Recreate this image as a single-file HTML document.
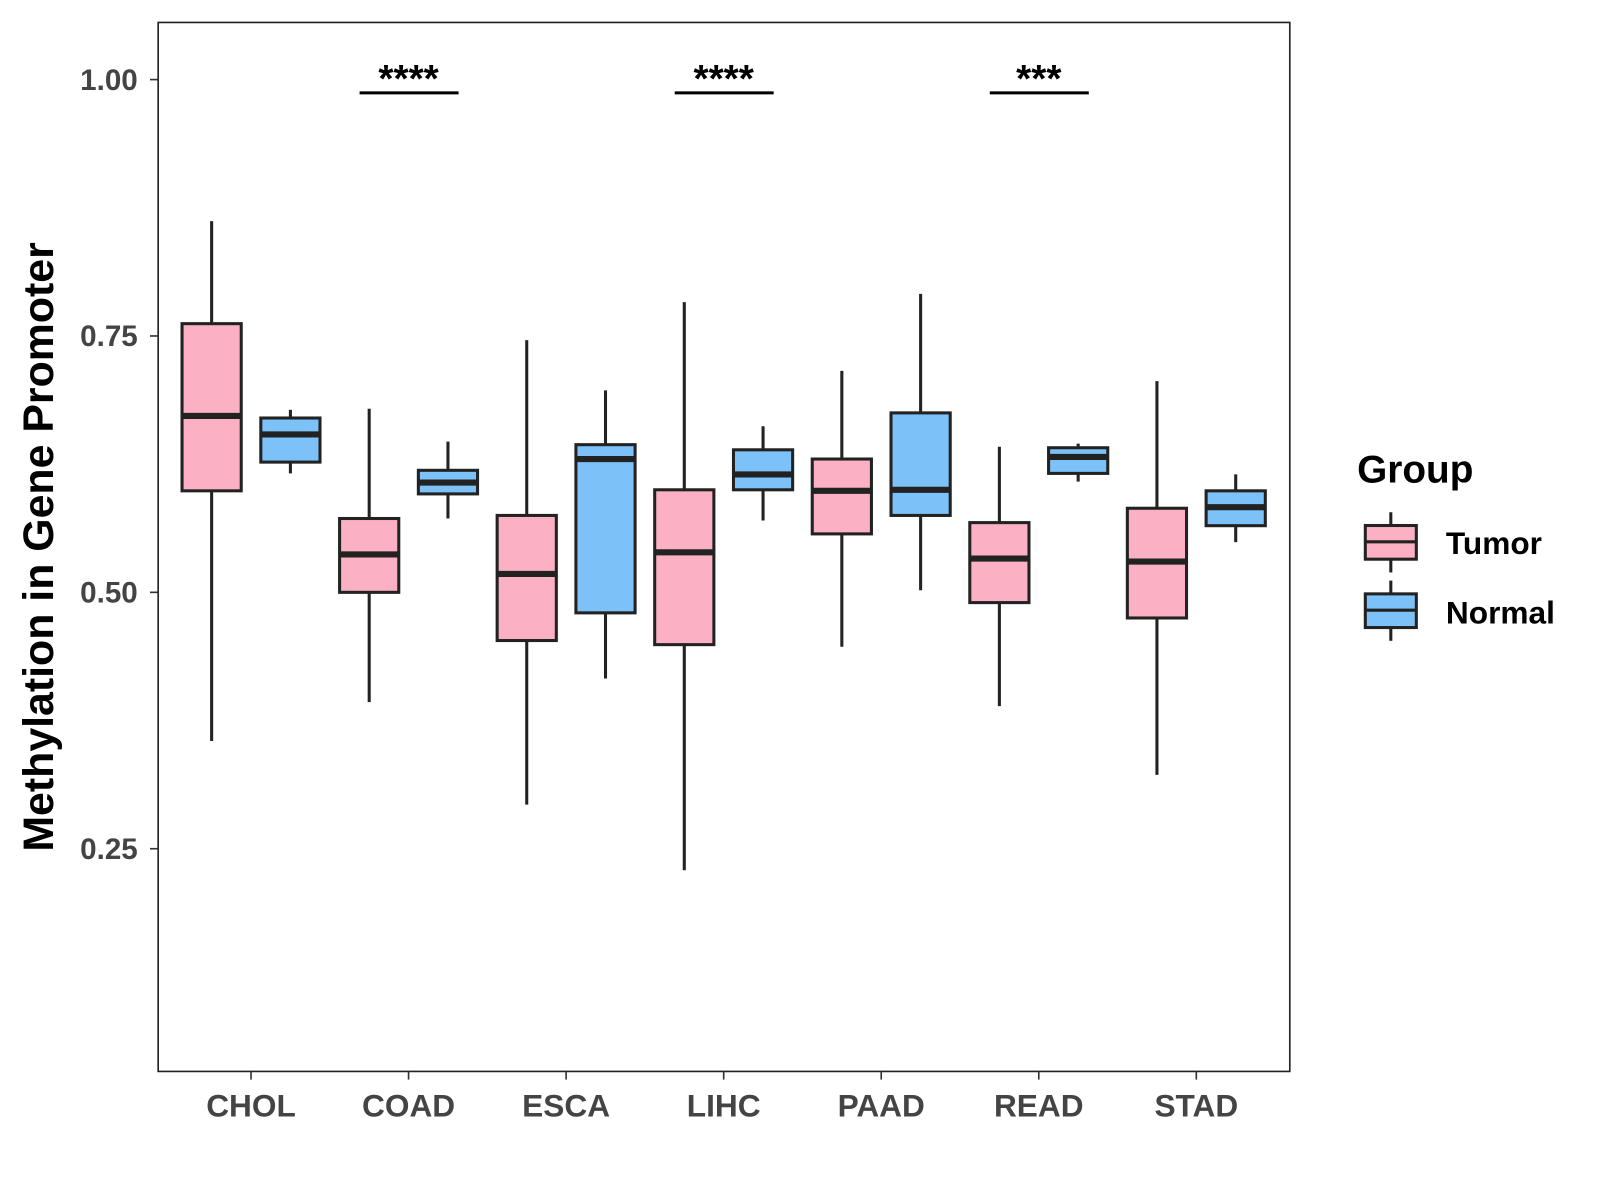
<!DOCTYPE html>
<html><head><meta charset="utf-8"><style>body{margin:0;background:#fff}svg{display:block}text{font-family:"Liberation Sans",Arial,sans-serif;font-weight:bold}</style></head>
<body>
<svg id="chart" width="1600" height="1200" viewBox="0 0 1568 1176" xmlns="http://www.w3.org/2000/svg">
<rect width="1568" height="1176" fill="#fff"/>
<g id="plot"></g>
<text transform="translate(52,536) rotate(-90)" text-anchor="middle" font-size="42" fill="#000">Methylation in Gene Promoter</text>
<g>
<text x="1330" y="473" font-size="38" fill="#000">Group</text>
<g>
<line x1="1363" y1="502" x2="1363" y2="561" stroke="#222" stroke-width="3"/>
<rect x="1338" y="515" width="50" height="33" fill="#fbb1c3" stroke="#222" stroke-width="3"/>
<line x1="1338" y1="531" x2="1388" y2="531" stroke="#222" stroke-width="3"/>
<text x="1417" y="543" font-size="31" fill="#000">Tumor</text></g>
<g>
<line x1="1363" y1="569" x2="1363" y2="628" stroke="#222" stroke-width="3"/>
<rect x="1338" y="582" width="50" height="33" fill="#7cc2f8" stroke="#222" stroke-width="3"/>
<line x1="1338" y1="598" x2="1388" y2="598" stroke="#222" stroke-width="3"/>
<text x="1417" y="611" font-size="31" fill="#000">Normal</text></g>
</g>
</svg>
<script>
const categories=["CHOL","COAD","ESCA","LIHC","PAAD","READ","STAD"];
const tumorStats=[[0.355,0.599,0.672,0.762,0.862],[0.393,0.500,0.537,0.572,0.679],[0.293,0.453,0.518,0.575,0.746],[0.229,0.449,0.539,0.600,0.783],[0.447,0.557,0.599,0.630,0.716],[0.389,0.490,0.533,0.568,0.642],[0.322,0.475,0.530,0.582,0.706]];
const normalStats=[[0.616,0.627,0.654,0.670,0.678],[0.572,0.596,0.607,0.619,0.647],[0.416,0.480,0.630,0.644,0.697],[0.570,0.600,0.615,0.639,0.662],[0.502,0.575,0.600,0.675,0.791],[0.608,0.616,0.632,0.641,0.645],[0.549,0.565,0.583,0.599,0.615]];
const yTicks=[0.25,0.50,0.75,1.00];
const yTickLabels=["0.25","0.50","0.75","1.00"];
const sigCategories=["COAD","LIHC","READ"];
const sigLabels=["****","****","***"];
const NS="http://www.w3.org/2000/svg";
const L=155,R=1264,T=22,B=1050;
const y=v=>78+(1-v)*1005;
const x=i=>246+i*154.4;
const g=document.getElementById('plot');
function mk(t,a,p){const e=document.createElementNS(NS,t);for(const k in a)e.setAttribute(k,a[k]);(p||g).appendChild(e);return e;}
const panel=mk('rect',{x:L,y:T,width:R-L,height:B-T,fill:'none',stroke:'#222','stroke-width':1.6});


yTicks.forEach((v,i)=>{
  const t=mk('line',{x1:L-8,x2:L,y1:y(v),y2:y(v),stroke:'#333','stroke-width':1.6});
  
  
  const l=mk('text',{x:135,y:y(v)+10,'text-anchor':'end','font-size':29,fill:'#444'});
  l.textContent=yTickLabels[i];
  
  
});
categories.forEach((c,i)=>{
  const t=mk('line',{x1:x(i),x2:x(i),y1:B,y2:B+8,stroke:'#333','stroke-width':1.6});
  
  
  const l=mk('text',{x:x(i),y:1094,'text-anchor':'middle','font-size':31,fill:'#444'});
  l.textContent=c;
  
  
});
function box(cx,s,fill,name){
  const gg=mk('g',{});
  
  
  const w=58;
  mk('line',{x1:cx,x2:cx,y1:y(s[4]),y2:y(s[0]),stroke:'#222','stroke-width':3},gg);
  mk('rect',{x:cx-w/2,y:y(s[3]),width:w,height:y(s[1])-y(s[3]),fill:fill,stroke:'#222','stroke-width':3},gg);
  mk('line',{x1:cx-w/2,x2:cx+w/2,y1:y(s[2]),y2:y(s[2]),stroke:'#222','stroke-width':6},gg);
}
categories.forEach((c,i)=>{
  box(x(i)-38.6,tumorStats[i],'#fbb1c3','box-tumor-'+c.toLowerCase());
  box(x(i)+38.6,normalStats[i],'#7cc2f8','box-normal-'+c.toLowerCase());
});
sigCategories.forEach((c,k)=>{
  const i=categories.indexOf(c);
  const ln=mk('line',{x1:x(i)-48,x2:x(i)+49,y1:91,y2:91,stroke:'#000','stroke-width':3});
  
  
  const t=mk('text',{x:x(i),y:90,'text-anchor':'middle','font-size':38,fill:'#000'});
  t.textContent=sigLabels[k];
  
  
});
</script>
</body></html>
